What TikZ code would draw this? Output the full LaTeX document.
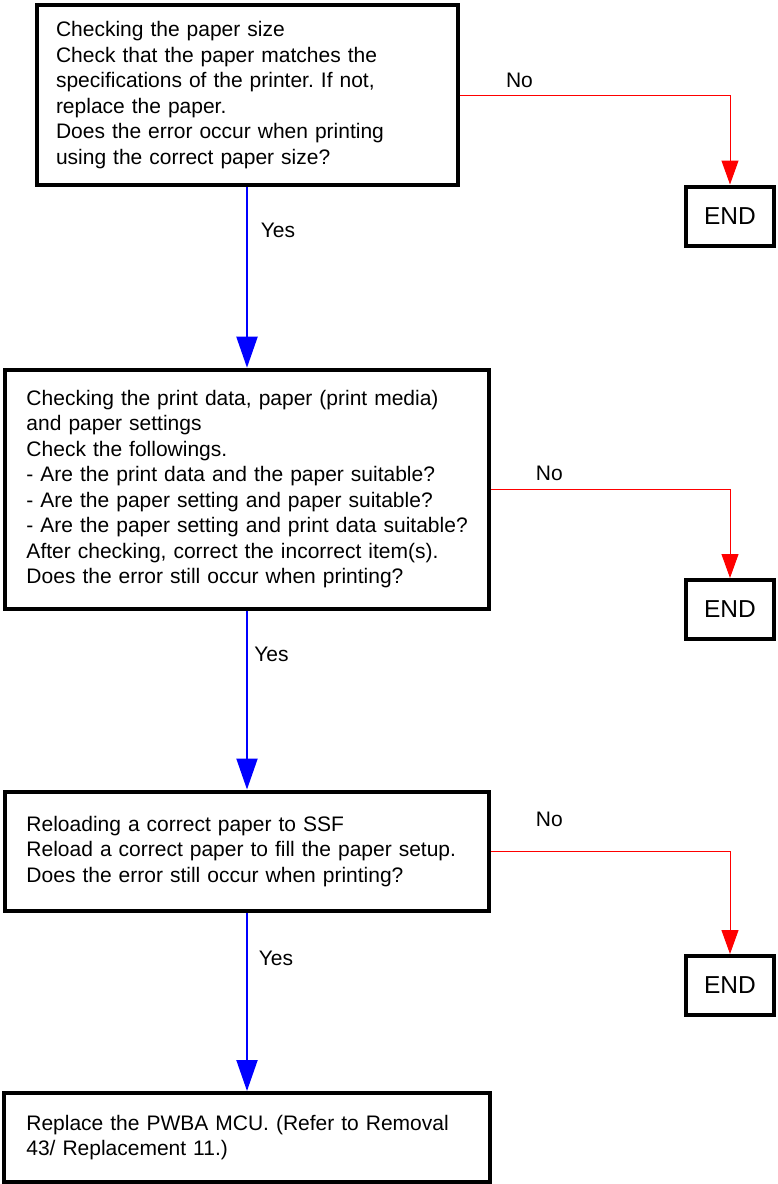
\documentclass[tikz,border=0pt]{standalone}
\usepackage{fontspec}
\setmainfont{Liberation Sans}
\usetikzlibrary{arrows.meta}
\frenchspacing
\hyphenpenalty=10000
\tikzset{
  stepbox/.style={draw=black, line width=4pt, rectangle, inner sep=0pt, align=left,
    font=\fontsize{21}{25.5}\selectfont},
  endbox/.style={draw=black, line width=4pt, rectangle, inner sep=0pt,
    minimum width=88pt, minimum height=59pt, font=\fontsize{24.5}{28}\selectfont},
  yesarrow/.style={draw=blue, line width=2pt, -{Triangle[length=31pt,width=21pt]}},
  noarrow/.style={draw=red, line width=1pt, -{Triangle[length=24pt,width=17pt]}},
  lbl/.style={inner sep=0pt, font=\fontsize{21}{25}\selectfont},
}
\begin{document}
\begin{tikzpicture}[x=1pt,y=-1pt]
\useasboundingbox (0,0) rectangle (778,1184);
\node[stepbox, minimum width=421pt, minimum height=179.7pt, text width=382pt] (b1) at (247,95.15)
  {Checking the paper size\\Check that the paper matches the\\specifications of the printer. If not,\\replace the paper.\\Does the error occur when printing\\using the correct paper size?};
\node[stepbox, minimum width=484.5pt, minimum height=239pt, text width=441pt] (b2) at (247,489.2)
  {Checking the print data, paper (print media)\\and paper settings\\Check the followings.\\- Are the print data and the paper suitable?\\- Are the paper setting and paper suitable?\\\mbox{- Are the paper setting and print data suitable?}\\After checking, correct the incorrect item(s).\\Does the error still occur when printing?};
\node[stepbox, minimum width=484.5pt, minimum height=119.5pt, text width=441pt] (b3) at (247,851.25)
  {Reloading a correct paper to SSF\\Reload a correct paper to fill the paper setup.\\Does the error still occur when printing?};
\node[stepbox, minimum width=485.3pt, minimum height=89pt, text width=441.3pt] (b4) at (247,1137.5)
  {Replace the PWBA MCU. (Refer to Removal\\43/ Replacement 11.)};
\node[endbox] (e1) at (730,216) {END};
\node[endbox] (e2) at (730,609.5) {END};
\node[endbox] (e3) at (730,985.5) {END};
\draw[yesarrow] (b1.south) -- (b2.north);
\draw[yesarrow] (b2.south) -- (b3.north);
\draw[yesarrow] (b3.south) -- (b4.north);
\draw[noarrow] (b1.east) -| (e1.north);
\draw[noarrow] (b2.east) -| (e2.north);
\draw[noarrow] (b3.east) -| (e3.north);
\node[lbl] (y1) at (278,230.5) {Yes};
\node[lbl] (y2) at (271.5,654.2) {Yes};
\node[lbl] (y3) at (276,958) {Yes};
\node[lbl] (n1) at (519.5,80) {No};
\node[lbl] (n2) at (549.3,473.3) {No};
\node[lbl] (n3) at (549.3,819.2) {No};
\end{tikzpicture}
\end{document}
